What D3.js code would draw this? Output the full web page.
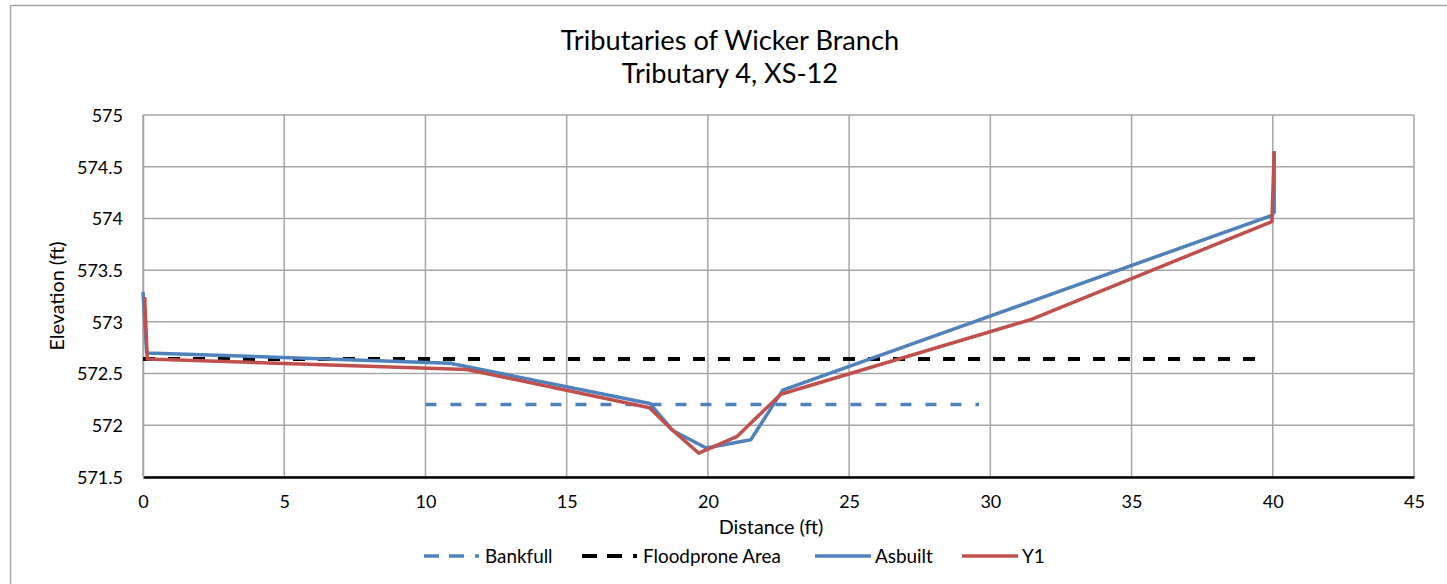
<!DOCTYPE html>
<html>
<head>
<meta charset="utf-8">
<script src="https://cdn.jsdelivr.net/npm/d3@7"></script>
<style>
  html, body { margin: 0; padding: 0; background: #fff; }
  svg { display: block; }
  text { font-family: Lato, "Open Sans", sans-serif; fill: #000; }
</style>
</head>
<body>
<svg id="chart" width="1447" height="584"></svg>
<script>
// ---- data ----
const titleLines = ["Tributaries of Wicker Branch", "Tributary 4, XS-12"];
const xTicks = [0, 5, 10, 15, 20, 25, 30, 35, 40, 45];
const yTicks = [571.5, 572, 572.5, 573, 573.5, 574, 574.5, 575];

const bankfullX = [10, 29.6];
const bankfullY = [572.2, 572.2];

const floodproneX = [0, 39.6];
const floodproneY = [572.64, 572.64];

const asbuiltX = [0, 0.13, 10.87, 17.95, 18.75, 19.94, 21.52, 22.65, 39.97, 40.05, 40.05];
const asbuiltY = [573.29, 572.70, 572.60, 572.21, 571.95, 571.78, 571.86, 572.34, 574.03, 574.06, 574.65];

const y1X = [0.06, 0.15, 11.46, 17.93, 18.72, 19.68, 21.02, 22.58, 31.41, 39.97, 40.05];
const y1Y = [573.24, 572.64, 572.54, 572.17, 571.96, 571.73, 571.89, 572.30, 573.02, 573.97, 574.65];

const seriesNames = ["Bankfull", "Floodprone Area", "Asbuilt", "Y1"];

// ---- layout ----
const svg = d3.select("#chart");
const plot = { left: 143, right: 1414, top: 115, bottom: 477 };

const x = d3.scaleLinear().domain([0, 45]).range([plot.left, plot.right]);
const y = d3.scaleLinear().domain([571.5, 575]).range([plot.bottom, plot.top]);

// fit a group of text elements to target widths with one shared font size
function fitGroup(sel, targets, base) {
  let measured = 0, target = 0;
  sel.each(function (d, i) { measured += this.getComputedTextLength(); target += targets[i]; });
  sel.attr("font-size", base * target / measured);
}

// outer border
svg.append("rect").attr("x", 10.5).attr("y", 5.5).attr("width", 1460).attr("height", 600)
  .attr("fill", "#fff").attr("stroke", "#a6a6a6").attr("stroke-width", 1.5);

// gridlines
const grid = svg.append("g");
grid.selectAll("line.h").data(yTicks).join("line")
  .attr("x1", plot.left).attr("x2", plot.right)
  .attr("y1", d => y(d)).attr("y2", d => y(d))
  .attr("stroke", "#a6a6a6").attr("stroke-width", 1.5);
grid.selectAll("line.v").data(xTicks).join("line")
  .attr("y1", plot.top).attr("y2", plot.bottom)
  .attr("x1", d => x(d)).attr("x2", d => x(d))
  .attr("stroke", "#a6a6a6").attr("stroke-width", 1.5);

// axes
const xAxis = d3.axisBottom(x).tickValues(xTicks).tickSize(0).tickPadding(0).tickFormat(d3.format("d"));
const gx = svg.append("g").attr("transform", `translate(0,${plot.bottom})`).call(xAxis);
gx.select(".domain").attr("stroke", "#000").attr("stroke-width", 2.5);
gx.selectAll("text").attr("font-size", 18).attr("font-family", null).attr("y", 25).attr("dy", "0.35em");

const yAxis = d3.axisLeft(y).tickValues(yTicks).tickSize(0).tickPadding(20).tickFormat(d => d);
const gy = svg.append("g").attr("transform", `translate(${plot.left},0)`).call(yAxis);
gy.select(".domain").attr("stroke", "#a6a6a6").attr("stroke-width", 1.5);
gy.selectAll("text").attr("font-size", 18).attr("font-family", null).attr("dy", "0.35em");

// titles
const titles = svg.append("g").selectAll("text").data(titleLines).join("text")
  .attr("x", 730).attr("y", (d, i) => 40 + i * 33).attr("dy", "0.35em")
  .attr("text-anchor", "middle").attr("font-size", 26).text(d => d);
fitGroup(titles, [345, 210], 26);

const axisTitles = svg.append("g");
const xt = axisTitles.append("text").attr("x", 771).attr("y", 527).attr("dy", "0.35em")
  .attr("text-anchor", "middle").attr("font-size", 18).text("Distance (ft)");
const yt = axisTitles.append("text").attr("transform", `translate(57,${(plot.top + plot.bottom) / 2}) rotate(-90)`)
  .attr("dy", "0.35em").attr("text-anchor", "middle").attr("font-size", 18).text("Elevation (ft)");
fitGroup(axisTitles.selectAll("text"), [104, 110], 18);

// series
const line = d3.line().x(d => x(d[0])).y(d => y(d[1]));
const zip = (a, b) => a.map((v, i) => [v, b[i]]);

const blue = "#4f81bd", red = "#c0504d";
const series = [
  { name: seriesNames[0], pts: zip(bankfullX, bankfullY), color: blue, width: 3.5, dash: "11,14" },
  { name: seriesNames[1], pts: zip(floodproneX, floodproneY), color: "#000", width: 4, dash: "12,13" },
  { name: seriesNames[2], pts: zip(asbuiltX, asbuiltY), color: blue, width: 3.5, dash: null },
  { name: seriesNames[3], pts: zip(y1X, y1Y), color: red, width: 3.5, dash: null }
];

svg.append("g").selectAll("path").data(series).join("path")
  .attr("d", d => line(d.pts))
  .attr("fill", "none")
  .attr("stroke", d => d.color)
  .attr("stroke-width", d => d.width)
  .attr("stroke-linejoin", "round")
  .attr("stroke-dasharray", d => d.dash);

// legend
const legendPos = [
  { x0: 424, x1: 479, tx: 485, w: 68 },
  { x0: 582, x1: 637, tx: 643, w: 142 },
  { x0: 815, x1: 871, tx: 875, w: 58 },
  { x0: 962, x1: 1018, tx: 1022, w: 18 }
];
const ly = 556;
const lg = svg.append("g");
series.forEach((s, i) => {
  const p = legendPos[i];
  lg.append("line").attr("x1", p.x0).attr("x2", p.x1).attr("y1", ly).attr("y2", ly)
    .attr("stroke", s.color).attr("stroke-width", s.width)
    .attr("stroke-dasharray", s.dash ? "15,10,15,11,4" : null);
});
const ltexts = lg.selectAll("text").data(series).join("text")
  .attr("x", (d, i) => legendPos[i].tx).attr("y", ly).attr("dy", "0.35em")
  .attr("font-size", 18).text(d => d.name);
fitGroup(ltexts, legendPos.map(p => p.w), 18);
</script>
</body>
</html>
